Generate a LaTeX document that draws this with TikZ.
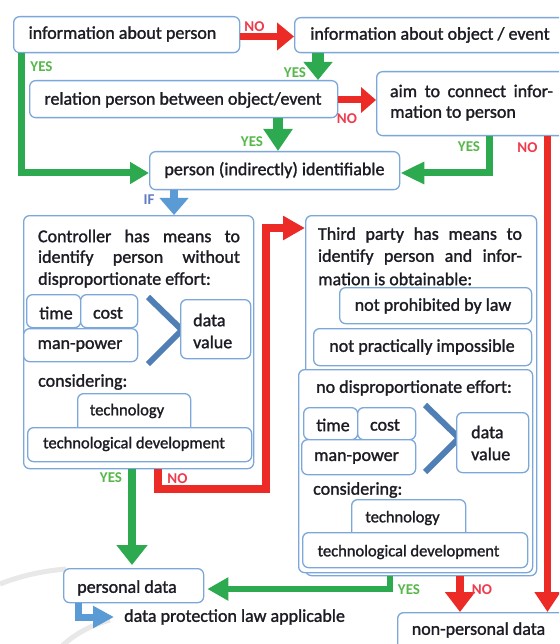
\documentclass[tikz,border=0pt]{standalone}
\usepackage{fontspec}
\setmainfont{Carlito}
\newfontfamily\heavyfont{Carlito}[FakeBold=1.4]
\usetikzlibrary{arrows.meta}
\definecolor{boxc}{HTML}{7BA7D9}
\definecolor{grn}{HTML}{2DAA4F}
\definecolor{rd}{HTML}{EC2A26}
\definecolor{blu}{HTML}{5B9BD5}
\definecolor{chev}{HTML}{4F7FB5}
\definecolor{yesc}{HTML}{55B848}
\definecolor{noc}{HTML}{EF3B4B}
\definecolor{txtc}{HTML}{1C1C24}
\definecolor{wm}{HTML}{E8E8E8}
\begin{document}
\begin{tikzpicture}[x=1pt,y=-1pt,
  box/.style={draw=boxc, line width=1.3pt, rounded corners=6pt, fill=white, anchor=north west, inner sep=0pt},
  txt/.style={text=txtc, font=\heavyfont\fontsize{18}{22}\selectfont, inner sep=0pt},
  stxt/.style={text=txtc, font=\heavyfont\fontsize{16.5}{20}\selectfont, inner sep=0pt},
  yes/.style={text=yesc, font=\bfseries\fontsize{15}{16}\selectfont, inner sep=0pt},
  no/.style={text=noc, font=\bfseries\fontsize{15}{16}\selectfont, inner sep=0pt},
  ifl/.style={text=blu!80!violet, font=\bfseries\fontsize{15}{16}\selectfont, inner sep=0pt},
  garr/.style={draw=grn, line join=miter},
  rarr/.style={draw=rd, line join=miter},
  barr/.style={draw=blu, line join=miter}]
\useasboundingbox (0,0) rectangle (559,644);
\clip (0,0) rectangle (559,644);
\fill[white] (0,0) rectangle (559,644);
% watermark arcs
\draw[wm, line width=5pt] (0,584) .. controls (20,576) and (42,571) .. (66,569);
\draw[wm, line width=5pt] (60,648) .. controls (72,636) and (88,626) .. (110,620);

% top boxes
\node[box, minimum width=226pt, minimum height=36pt] (b1) at (13,16) {};
\node[txt] (t1) at (122.5,34) {information about person};
\node[box, minimum width=281pt, minimum height=35pt] (b2) at (294,17) {};
\node[txt] (t2) at (430,35) {information about object / event};
\node[box, minimum width=308pt, minimum height=37pt] (b3) at (29,80) {};
\node[txt] (t3) at (183,100) {relation person between object/event};
\node[box, minimum width=199pt, minimum height=64pt] (b4) at (376,71) {};
\node[txt] (t4a) at (471.5,91) {\hbox to 163pt{aim\hfill to\hfill connect\hfill infor-}};
\node[txt, anchor=west] (t4b) at (390,113) {mation to person};
\node[box, minimum width=250pt, minimum height=38pt] (b5) at (149,151) {};
\node[txt] (t5) at (274.5,170) {person (indirectly) identifiable};

% controller box
\node[box, minimum width=230pt, minimum height=253pt] (ctrl) at (23,215) {};
\node[txt] (c1) at (139,236) {\hbox to 202pt{Controller\hfill has\hfill means\hfill to}};
\node[txt] (c2) at (139,258) {\hbox to 202pt{identify\hfill person\hfill without}};
\node[txt, anchor=west] (c3) at (38,280) {disproportionate effort:};
\node[box, minimum width=54pt, minimum height=33pt] (ctime) at (26,294) {};
\node[box, minimum width=57pt, minimum height=33pt] (ccost) at (80,294) {};
\node[box, minimum width=114pt, minimum height=33pt] (cman) at (23,328) {};
\node[txt] at (56,313) {time};
\node[txt] at (108,313) {cost};
\node[txt] at (80,346) {man-power};
\draw[chev, line width=6pt, line join=miter] (148,297) -- (182,330) -- (148,364);
\node[box, minimum width=70pt, minimum height=59pt] (cval) at (180,299) {};
\node[txt, anchor=west, align=left] (cvalt) at (193,331) {data\\value};
\node[txt, anchor=west] (ccons) at (38,382) {considering:};
\node[box, minimum width=113pt, minimum height=40pt] (ctech) at (77,393) {};
\node[box, minimum width=224pt, minimum height=34pt] (cdev) at (27,427) {};
\node[stxt] at (127,411) {technology};
\node[stxt] at (134,444) {technological development};

% third party box
\node[box, minimum width=231pt, minimum height=360pt] (tp) at (305,215) {};
\node[txt] (p1) at (420,235) {\hbox to 204pt{Third\hfill party\hfill has\hfill means\hfill to}};
\node[txt] (p2) at (420,257) {\hbox to 204pt{identify\hfill person\hfill and\hfill infor-}};
\node[txt, anchor=west] (p3) at (318,279) {mation is obtainable:};
\node[box, minimum width=192pt, minimum height=36pt] (plaw) at (339,287) {};
\node[txt] at (433,306) {not prohibited by law};
\node[box, minimum width=218pt, minimum height=37pt] (pimp) at (313,328) {};
\node[txt] at (422,347) {not practically impossible};
\node[box, minimum width=234pt, minimum height=203pt] (pin) at (298,369) {};
\node[txt] at (414,388) {no disproportionate effort:};
\node[box, minimum width=54pt, minimum height=32pt] (ptime) at (303,407) {};
\node[box, minimum width=58pt, minimum height=32pt] (pcost) at (357,407) {};
\node[box, minimum width=114pt, minimum height=35pt] (pman) at (301,439) {};
\node[txt] at (333,425) {time};
\node[txt] at (385,425) {cost};
\node[txt] at (356.5,458) {man-power};
\draw[chev, line width=6pt, line join=miter] (425,405) -- (459,438) -- (425,472);
\node[box, minimum width=72pt, minimum height=60pt] (pval) at (456,412) {};
\node[txt, anchor=west, align=left] (pvalt) at (471,443) {data\\value};
\node[txt, anchor=west] (pcons) at (313,490) {considering:};
\node[box, minimum width=114pt, minimum height=40pt] (ptech) at (351,499) {};
\node[box, minimum width=225pt, minimum height=35pt] (pdev) at (302,532) {};
\node[stxt] at (402.5,518) {technology};
\node[stxt] at (408.5,552) {technological development};

% bottom boxes
\node[box, minimum width=140pt, minimum height=34pt] (pd) at (63,568) {};
\node[txt] (pdt) at (127,588) {personal data};
\node[txt, anchor=west] (dpl) at (124,617) {data protection law applicable};
\node[box, minimum width=178pt, minimum height=48pt] (npd) at (397,612) {};
\node[txt] (npdt) at (478.5,630) {non-personal data};

% connectors
\draw[rarr, line width=7pt, -{Triangle[length=17pt,width=27pt]}] (b1.east |- 0,36.5) -- (b2.west |- 0,36.5);
\node[no] (n1) at (254.5,27) {NO};
\draw[garr, line width=12pt, -{Triangle[length=18pt,width=28pt]}] (b2.south -| 318,0) -- (b3.north -| 318,0);
\node[yes] (y2) at (295,73) {YES};
\draw[rarr, line width=7pt, -{Triangle[length=15pt,width=25pt]}] (b3.east |- 0,100) -- (b4.west |- 0,100);
\node[no] (n3) at (347,119) {NO};
\draw[garr, line width=7pt, -{Triangle[length=19pt,width=21pt]}] (b1.south -| 21.5,0) -- (21.5,173) -- (b5.west |- 0,173);
\node[yes] (y4) at (41.5,67) {YES};
\draw[garr, line width=10pt, -{Triangle[length=22pt,width=28pt]}] (b3.south -| 278,0) -- (b5.north -| 278,0);
\node[yes] (y5) at (252,142) {YES};
\draw[garr, line width=7pt, -{Triangle[length=24pt,width=21pt]}] (b4.south -| 489,0) -- (489,173) -- (b5.east |- 0,173);
\node[yes] (y6) at (469,147) {YES};
\draw[rarr, line width=7pt, -{Triangle[length=20pt,width=25pt]}] (b4.south -| 547.5,0) -- (npd.north -| 547.5,0);
\node[no] (n7) at (527.5,148) {NO};
\draw[barr, line width=8pt, -{Triangle[length=17pt,width=28pt]}] (b5.south -| 174,0) -- (ctrl.north -| 174,0);
\node[ifl] (if8) at (149,200) {IF};
\draw[garr, line width=8pt, -{Triangle[length=20pt,width=30pt]}] (ctrl.south -| 132,0) -- ([yshift=3pt]pd.north -| 132,0);
\node[yes] (y9) at (111,478) {YES};
\draw[rarr, line width=8pt, -{Triangle[length=22pt,width=23pt]}] (ctrl.south -| 158,0) -- (158,489) -- (265.5,489) -- (265.5,228) -- (tp.west |- 0,228);
\node[no] (n10) at (177.5,479) {NO};
\draw[garr, line width=6pt, -{Triangle[length=21pt,width=22pt]}] (tp.south -| 390,0) -- (390,589) -- ([xshift=3pt]pd.east |- 0,589);
\node[yes] (y11) at (409,590) {YES};
\draw[rarr, line width=8pt, -{Triangle[length=20pt,width=29pt]}] (tp.south -| 460,0) -- (npd.north -| 460,0);
\node[no] (n12) at (482,590) {NO};
\draw[barr, line width=7pt, -{Triangle[length=21pt,width=21pt]}] (pd.south -| 78,0) -- (78,617) -- ([xshift=-10pt]dpl.west);
\end{tikzpicture}
\end{document}
